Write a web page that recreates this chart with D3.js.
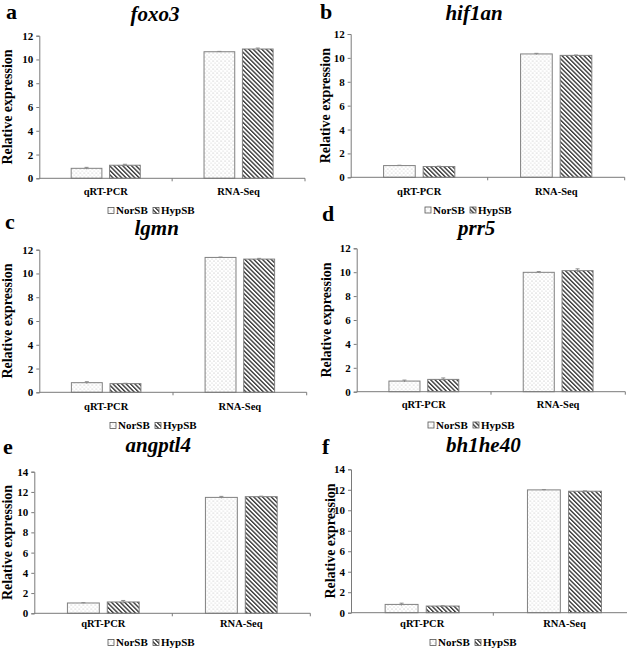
<!DOCTYPE html>
<html>
<head>
<meta charset="utf-8">
<script src="https://cdn.jsdelivr.net/npm/d3@7"></script>
<style>
  html, body { margin: 0; padding: 0; background: #fff; }
  svg { display: block; }
</style>
</head>
<body>
<svg id="chart" width="627" height="654"></svg>
<script>
// data
const categories = ['qRT-PCR', 'RNA-Seq']
const series = ['NorSB', 'HypSB']
const genes = ['foxo3', 'hif1an', 'lgmn', 'prr5', 'angptl4', 'bh1he40']
const letters = ['a', 'b', 'c', 'd', 'e', 'f']
const norSB = [[0.84, 10.65], [0.98, 10.33], [0.81, 11.35], [0.89, 9.99], [1.02, 11.46], [0.81, 11.99]]
const hypSB = [[1.10, 10.88], [0.90, 10.21], [0.73, 11.21], [1.03, 10.13], [1.12, 11.53], [0.65, 11.86]]
const norErr = [[0.08, 0.03], [0.03, 0.05], [0.08, 0.03], [0.08, 0.06], [0.03, 0.10], [0.12, 0.03]]
const hypErr = [[0.08, 0.08], [0.03, 0.03], [0.03, 0.06], [0.12, 0.15], [0.15, 0.05], [0.03, 0.03]]
const yMax = [12, 12, 12, 12, 14, 14]
const yTickStep = 2

const FONT = "'Liberation Serif', 'Times New Roman', 'DejaVu Serif', serif"

// panel layout (pixel positions)
const layout = [
  { ax: 39.3, top: 35.7, bottom: 178.3, right: 305, lx: 6, ly: 18.5, tx: 155, ty: 21, yt: 12, cy: 195, legX: 108, legY: 214 },
  { ax: 350.7, top: 34, bottom: 177.3, right: 624.7, lx: 320, ly: 18.5, tx: 474, ty: 20, yt: 330, cy: 195, legX: 425, legY: 213.5 },
  { ax: 39.3, top: 249.7, bottom: 392.3, right: 306.7, lx: 5, ly: 228.5, tx: 156.7, ty: 235, yt: 12, cy: 410, legX: 110, legY: 429 },
  { ax: 356.7, top: 248.3, bottom: 391.7, right: 625.3, lx: 322, ly: 221, tx: 476.7, ty: 235, yt: 331, cy: 408, legX: 428, legY: 428.5 },
  { ax: 34.3, top: 471.7, bottom: 613.3, right: 310.3, lx: 3, ly: 453.5, tx: 158.3, ty: 452, yt: 12, cy: 627, legX: 108, legY: 646 },
  { ax: 351, top: 469.3, bottom: 612.7, right: 635.6, lx: 322, ly: 453.5, tx: 483.3, ty: 452, yt: 335, cy: 627, legX: 430, legY: 646 }
]

const svg = d3.select('#chart')
const defs = svg.append('defs')

// dotted fill for NorSB
const dots = defs.append('pattern')
  .attr('id', 'pat-NorSB')
  .attr('patternUnits', 'userSpaceOnUse')
  .attr('width', 4).attr('height', 4)
dots.append('rect').attr('width', 4).attr('height', 4).attr('fill', '#fff')
dots.append('circle').attr('cx', 1).attr('cy', 1).attr('r', 0.6).attr('fill', '#b0b0b0')
dots.append('circle').attr('cx', 3).attr('cy', 3).attr('r', 0.6).attr('fill', '#c8c8c8')

// hatched fill for HypSB
const hatch = defs.append('pattern')
  .attr('id', 'pat-HypSB')
  .attr('patternUnits', 'userSpaceOnUse')
  .attr('width', 3.1).attr('height', 3.1)
  .attr('patternTransform', 'rotate(-45)')
hatch.append('rect').attr('width', 3.1).attr('height', 3.1).attr('fill', '#fff')
hatch.append('line').attr('x1', 0.7).attr('y1', 0).attr('x2', 0.7).attr('y2', 3.1)
  .attr('stroke', '#1a1a1a').attr('stroke-width', 1.2)

const axisColor = '#7a7a7a'

genes.forEach((gene, p) => {
  const L = layout[p]
  const g = svg.append('g')
    .attr('font-family', FONT)
    .attr('font-weight', 'bold')

  const x = d3.scaleBand().domain(categories).range([L.ax, L.right]).padding(0)
  const bw = x.bandwidth()
  const x1 = d3.scaleBand().domain(series).range([bw * 0.24, bw * 0.76]).paddingInner(0.2)
  const y = d3.scaleLinear().domain([0, yMax[p]]).range([L.bottom, L.top])

  const rows = categories.map((c, i) => ({
    cat: c,
    vals: [
      { s: 'NorSB', v: norSB[p][i], e: norErr[p][i] },
      { s: 'HypSB', v: hypSB[p][i], e: hypErr[p][i] }
    ]
  }))

  // y axis
  const yAxis = d3.axisLeft(y)
    .tickValues(d3.range(0, yMax[p] + 0.01, yTickStep))
    .tickSize(3)
    .tickPadding(3)
  const yg = g.append('g').attr('transform', `translate(${L.ax},0)`).call(yAxis)
  yg.attr('font-family', FONT).attr('font-size', 11).attr('font-weight', 'bold')
  yg.select('.domain').attr('stroke', axisColor)
  yg.selectAll('.tick line').attr('stroke', axisColor)
  yg.selectAll('.tick text').attr('fill', '#000')

  // bars
  const groups = g.selectAll('.grp').data(rows).join('g')
    .attr('transform', d => `translate(${x(d.cat)},0)`)

  groups.selectAll('rect.bar').data(d => d.vals).join('rect')
    .attr('class', 'bar')
    .attr('x', d => x1(d.s))
    .attr('y', d => y(d.v))
    .attr('width', x1.bandwidth())
    .attr('height', d => y(0) - y(d.v))
    .attr('fill', d => `url(#pat-${d.s})`)
    .attr('stroke', '#808080')
    .attr('stroke-width', 1)

  // error bars
  const eb = groups.selectAll('g.err').data(d => d.vals).join('g')
    .attr('class', 'err')
    .attr('transform', d => `translate(${x1(d.s) + x1.bandwidth() / 2},0)`)
  eb.append('line')
    .attr('y1', d => y(d.v + d.e)).attr('y2', d => y(d.v - d.e))
    .attr('stroke', '#8a8a8a').attr('stroke-width', 1)
  eb.append('line')
    .attr('x1', -2).attr('x2', 2)
    .attr('y1', d => y(d.v + d.e)).attr('y2', d => y(d.v + d.e))
    .attr('stroke', '#8a8a8a').attr('stroke-width', 1)

  // x axis: baseline with ticks at category boundaries
  g.append('line')
    .attr('x1', L.ax).attr('x2', L.right)
    .attr('y1', y(0)).attr('y2', y(0))
    .attr('stroke', axisColor)
  g.selectAll('line.xt').data(categories).join('line')
    .attr('class', 'xt')
    .attr('x1', d => x(d) + bw).attr('x2', d => x(d) + bw)
    .attr('y1', y(0)).attr('y2', y(0) + 3)
    .attr('stroke', axisColor)

  g.selectAll('text.cat').data(categories).join('text')
    .attr('class', 'cat')
    .attr('x', d => x(d) + bw / 2)
    .attr('y', L.cy)
    .attr('text-anchor', 'middle')
    .attr('font-size', 10.5)
    .text(d => d)

  // y title
  g.append('text')
    .attr('transform', `translate(${L.yt},${(L.top + L.bottom) / 2}) rotate(-90)`)
    .attr('text-anchor', 'middle')
    .attr('font-size', 14)
    .text('Relative expression')

  // panel letter and gene title
  g.append('text')
    .attr('x', L.lx).attr('y', L.ly)
    .attr('font-size', 22)
    .text(letters[p])
  g.append('text')
    .attr('x', L.tx).attr('y', L.ty)
    .attr('text-anchor', 'middle')
    .attr('font-size', 21)
    .attr('font-style', 'italic')
    .text(gene)

  // legend
  const leg = g.append('g').attr('transform', `translate(${L.legX},${L.legY})`)
  const offs = [0, 45]
  series.forEach((s, i) => {
    leg.append('rect')
      .attr('x', offs[i]).attr('y', -6.5)
      .attr('width', 6).attr('height', 6)
      .attr('fill', `url(#pat-${s})`)
      .attr('stroke', '#555').attr('stroke-width', 0.8)
    leg.append('text')
      .attr('x', offs[i] + 8).attr('y', 0)
      .attr('font-size', 11)
      .text(s)
  })
})
</script>
</body>
</html>
